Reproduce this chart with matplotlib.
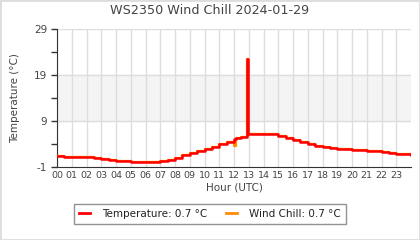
import matplotlib
matplotlib.use("Agg")
import matplotlib.pyplot as plt
from matplotlib.lines import Line2D

title = "WS2350 Wind Chill 2024-01-29"
hours = [0.0, 0.5, 1.0, 1.5, 2.0, 2.5, 3.0, 3.5, 4.0, 4.5, 5.0, 5.5, 6.0, 6.5,
         7.0, 7.5, 8.0, 8.5, 9.0, 9.5, 10.0, 10.5, 11.0, 11.5, 12.0, 12.12, 12.5,
         12.85, 12.9, 12.97, 13.5, 14.0, 14.5, 15.0, 15.5, 16.0, 16.5, 17.0,
         17.5, 18.0, 18.5, 19.0, 19.5, 20.0, 20.5, 21.0, 21.5, 22.0, 22.5,
         23.0, 23.5, 24.0]
temperature = [1.5, 1.2, 1.15, 1.15, 1.1, 0.9, 0.8, 0.6, 0.4, 0.2, 0.1, 0.1,
               0.1, 0.1, 0.3, 0.5, 1.0, 1.6, 2.0, 2.4, 2.9, 3.3, 3.9, 4.5,
               5.1, 5.2, 5.5, 5.7, 22.5, 6.2, 6.2, 6.2, 6.1, 5.8, 5.3, 4.8, 4.4,
               3.9, 3.5, 3.3, 3.1, 2.9, 2.9, 2.7, 2.7, 2.5, 2.4, 2.2, 2.0,
               1.9, 1.8, 1.7]
wind_chill = [1.5, 1.2, 1.15, 1.15, 1.1, 0.9, 0.8, 0.6, 0.4, 0.2, 0.1, 0.1,
              0.1, 0.1, 0.3, 0.5, 1.0, 1.6, 2.0, 2.4, 2.9, 3.3, 3.9, 4.5,
              3.6, 5.2, 5.5, 5.7, 22.5, 6.2, 6.2, 6.2, 6.1, 5.8, 5.3, 4.8, 4.4,
              3.9, 3.5, 3.3, 3.1, 2.9, 2.9, 2.7, 2.7, 2.5, 2.4, 2.2, 2.0,
              1.9, 1.8, 1.7]
hour_labels = [f"{h:02d}" for h in range(24)]
y_ticks = [-1, 9, 19, 29]
legend_labels = ["Temperature: 0.7 °C", "Wind Chill: 0.7 °C"]

txt = "#444444"
fig = plt.figure(figsize=(4.2, 2.4), dpi=100)
fig.patch.set_facecolor("white")
ax = fig.add_axes([57/420, 1 - 167/240, (411 - 57)/420, (167 - 29)/240])

ax.axhspan(9, 19, color="#f4f4f4", zorder=0)
for h in range(24):
    ax.axvline(h, color="#dddddd", lw=1, zorder=1)
for v in [9, 19, 29]:
    ax.axhline(v, color="#dddddd", lw=1, zorder=1)

ax.plot(hours, wind_chill, color="#ff8c00", lw=1.6, zorder=3, drawstyle="steps-post")
ax.plot(hours, temperature, color="#ff0000", lw=1.8, zorder=4, drawstyle="steps-post")

ax.set_xlim(0, 24)
ax.set_ylim(-1, 29)
ax.set_xticks(range(24))
ax.set_xticklabels(hour_labels, fontsize=6.8, color=txt)
ax.tick_params(axis="x", length=0, pad=3)
ax.set_yticks(y_ticks)
ax.set_yticks([4, 14, 24], minor=True)
ax.set_yticklabels([str(v) for v in y_ticks], fontsize=7.5, color=txt)
ax.tick_params(axis="y", which="both", length=4, color="#333333", width=1, pad=3)
for s in ["top", "right"]:
    ax.spines[s].set_visible(False)
for s in ["left", "bottom"]:
    ax.spines[s].set_color("#333333")
ax.set_xlabel("Hour (UTC)", fontsize=7.5, color=txt, labelpad=2)
ax.set_ylabel("Temperature (°C)", fontsize=7.5, color=txt, labelpad=10)
fig.text(0.5, 1 - 11/240, title, ha="center", va="center", fontsize=9.2, color=txt)

handles = [Line2D([], [], color="#ff0000", lw=2), Line2D([], [], color="#ff8c00", lw=2)]
leg = fig.legend(handles, legend_labels, loc="center", bbox_to_anchor=(0.5, 1 - 214/240),
                 ncol=2, fontsize=7.5, frameon=True, fancybox=False, handlelength=1.0,
                 columnspacing=1.8, borderpad=0.5, handletextpad=1.2)
leg.get_frame().set_edgecolor("#777777")
leg.get_frame().set_linewidth(1)
for t in leg.get_texts():
    t.set_color("#222222")

fig.patches.append(plt.Rectangle((0, 0), 1, 1, transform=fig.transFigure, fill=False,
                                 edgecolor="#dddddd", lw=2))
fig.savefig("out.png", dpi=100)
